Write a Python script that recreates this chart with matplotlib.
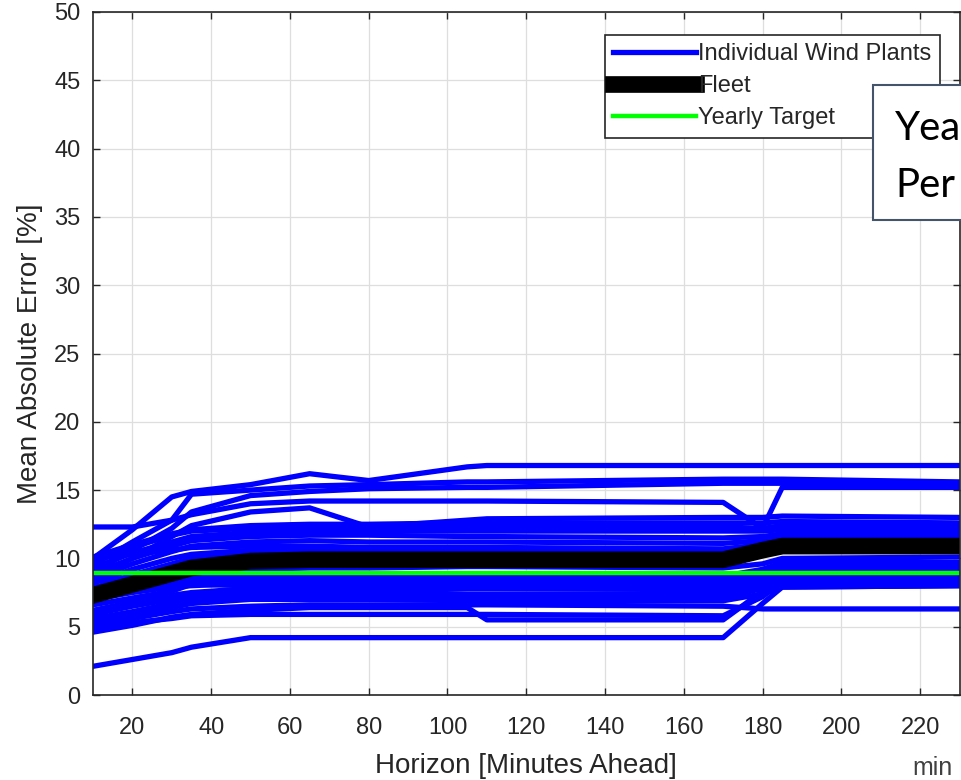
import numpy as np
import matplotlib
matplotlib.use("Agg")
import matplotlib.pyplot as plt
from matplotlib.patches import Rectangle

plt.rcParams['font.family'] = ['Liberation Sans', 'DejaVu Sans']

# forecast horizons (minutes ahead) where the curves were read
horizon = [10, 20, 30, 35, 50, 65, 80, 105, 110, 170, 180, 185, 230]

# mean absolute error [%] per individual wind plant
wp01 = [10.0, 12.1, 14.5, 14.9, 15.4, 16.2, 15.7, 16.7, 16.8, 16.8, 16.8, 16.8, 16.8]
wp02 = [9.5, 11.2, 12.8, 14.7, 15.0, 15.3, 15.4, 15.6, 15.6, 15.8, 15.8, 15.8, 15.6]
wp03 = [9.0, 10.6, 12.2, 13.4, 14.6, 14.9, 15.1, 15.2, 15.2, 15.5, 15.5, 15.5, 15.3]
wp04 = [12.3, 12.3, 12.8, 13.2, 14.0, 14.2, 14.2, 14.2, 14.2, 14.1, 12.2, 15.2, 15.2]
wp05 = [8.6, 10.0, 11.6, 12.4, 13.4, 13.7, 12.3, 12.8, 12.9, 13.0, 13.0, 13.1, 13.0]
wp06 = [10.1, 11.0, 11.8, 12.1, 12.4, 12.5, 12.5, 12.6, 12.6, 12.6, 12.6, 12.7, 12.6]
wp07 = [9.7, 10.8, 11.7, 12.0, 12.2, 12.3, 12.2, 12.3, 12.3, 12.3, 12.2, 12.4, 12.3]
wp08 = [9.3, 10.4, 11.2, 11.6, 11.9, 12.0, 12.0, 12.0, 12.0, 12.0, 12.0, 12.1, 12.1]
wp09 = [8.9, 10.0, 10.9, 11.3, 11.6, 11.7, 11.7, 11.6, 11.6, 11.5, 11.6, 11.8, 11.8]
wp10 = [8.5, 9.6, 10.5, 10.9, 11.2, 11.3, 11.2, 11.2, 11.2, 11.1, 11.3, 11.5, 11.5]
wp11 = [10.0, 10.3, 10.6, 10.8, 10.9, 10.9, 10.8, 10.8, 10.8, 10.7, 11.0, 11.2, 11.2]
wp12 = [8.2, 9.2, 10.0, 10.3, 10.6, 10.6, 10.5, 10.5, 10.5, 10.4, 10.7, 11.0, 11.0]
wp13 = [7.8, 8.8, 9.6, 10.0, 10.3, 10.4, 10.3, 10.3, 10.3, 10.2, 10.5, 10.7, 10.7]
wp14 = [8.3, 8.6, 8.9, 9.0, 9.2, 9.3, 9.3, 9.4, 9.4, 9.3, 9.6, 10.0, 10.1]
wp15 = [7.9, 8.2, 8.5, 8.6, 8.8, 8.8, 8.8, 8.8, 8.8, 8.7, 9.2, 9.7, 9.7]
wp16 = [7.5, 7.9, 8.2, 8.3, 8.5, 8.6, 8.6, 8.6, 8.6, 8.5, 8.9, 9.4, 9.4]
wp17 = [7.0, 7.5, 7.9, 8.0, 8.2, 8.3, 8.3, 8.3, 8.3, 8.2, 8.7, 9.1, 9.1]
wp18 = [6.6, 7.1, 7.6, 8.1, 8.0, 8.1, 8.0, 8.1, 8.1, 8.0, 8.5, 8.9, 8.9]
wp19 = [6.2, 6.8, 7.3, 7.5, 7.8, 7.8, 7.8, 7.8, 7.8, 7.7, 8.2, 8.6, 8.6]
wp20 = [5.9, 6.5, 7.0, 7.2, 7.5, 7.5, 7.5, 7.4, 7.4, 7.4, 8.0, 8.4, 8.4]
wp21 = [5.6, 6.1, 6.7, 7.0, 7.3, 7.3, 7.2, 7.2, 7.2, 7.1, 7.8, 8.2, 8.2]
wp22 = [5.3, 5.9, 6.4, 6.7, 7.0, 7.0, 7.0, 6.9, 6.9, 6.9, 7.4, 7.9, 8.0]
wp23 = [5.1, 5.6, 6.1, 6.3, 6.5, 6.6, 6.6, 6.6, 6.6, 6.5, 6.3, 6.3, 6.3]
wp24 = [4.6, 5.1, 5.7, 5.9, 6.2, 6.4, 6.4, 6.4, 5.5, 5.5, 7.6, 8.6, 8.6]
wp25 = [4.9, 5.3, 5.6, 5.8, 5.9, 5.9, 5.9, 5.9, 5.9, 5.8, 7.2, 8.3, 8.4]
wp26 = [2.1, 2.6, 3.1, 3.5, 4.2, 4.2, 4.2, 4.2, 4.2, 4.2, 6.7, 7.9, 8.0]

plants = [wp01, wp02, wp03, wp04, wp05, wp06, wp07, wp08, wp09, wp10, wp11, wp12, wp13,
          wp14, wp15, wp16, wp17, wp18, wp19, wp20, wp21, wp22, wp23, wp24, wp25, wp26]

fleet = [7.3, 8.1, 8.9, 9.3, 9.8, 9.9, 9.9, 9.9, 9.9, 9.9, 10.6, 10.9, 10.9]
yearly_target = 8.9

x_ticks = [20, 40, 60, 80, 100, 120, 140, 160, 180, 200, 220]
y_ticks = [0, 5, 10, 15, 20, 25, 30, 35, 40, 45, 50]

W, H = 961, 780
fig = plt.figure(figsize=(W / 100, H / 100), dpi=100)
ax = fig.add_axes([93 / W, (H - 695) / H, (959.5 - 93) / W, 683 / H])

for i, wp in enumerate(plants):
    ax.plot(horizon, wp, color='#0000ff', lw=3.8,
            label='Individual Wind Plants' if i == 0 else None)
ax.plot(horizon, fleet, color='black', lw=12, label='Fleet')
ax.plot(horizon, np.full(len(horizon), yearly_target), color='#00ff00', lw=3.2,
        label='Yearly Target')

ax.set_xlim(10, 230)
ax.set_ylim(0, 50)
ax.set_xticks(x_ticks)
ax.set_yticks(y_ticks)
ax.grid(True, color='#dedede', lw=0.9)
ax.set_axisbelow(True)
ax.tick_params(direction='in', length=5, width=1, top=True, right=True,
               labelsize=17, colors='#262626')
ax.tick_params(axis='x', pad=16)
ax.tick_params(axis='y', pad=9)
for s in ax.spines.values():
    s.set_color('#262626')
    s.set_linewidth(1.2)

ax.set_xlabel('Horizon [Minutes Ahead]', fontsize=20, color='#262626')
ax.set_ylabel('Mean Absolute Error [%]', fontsize=20, color='#262626')
ax.xaxis.set_label_coords(0.5, -0.085)
ax.yaxis.set_label_coords(-0.058, 0.5)

leg = ax.legend(loc='upper right', bbox_to_anchor=(0.9775, 0.966), borderaxespad=0,
                fontsize=17, fancybox=False, framealpha=1, edgecolor='#262626',
                handlelength=3.5, handletextpad=0.1, labelspacing=0.42, borderpad=0.35)
leg.get_frame().set_linewidth(1.2)
for t in leg.get_texts():
    t.set_color('#262626')

# overlaid text box, cut off at the right edge
box = Rectangle((873 / W, (H - 220) / H), 0.2, 135 / H, transform=fig.transFigure,
                facecolor='white', edgecolor='#44546a', lw=1.5, zorder=5)
fig.add_artist(box)
fig.text(895 / W, (H - 140) / H, 'Yea', fontsize=29, family=['Lato', 'DejaVu Sans'],
         va='baseline', zorder=6)
fig.text(895 / W, (H - 197) / H, 'Per', fontsize=29, family=['Lato', 'DejaVu Sans'],
         va='baseline', zorder=6)
fig.text(912 / W, 5 / H, 'min', fontsize=18, color='#404040', va='baseline')

fig.savefig('out.png', dpi=100)
